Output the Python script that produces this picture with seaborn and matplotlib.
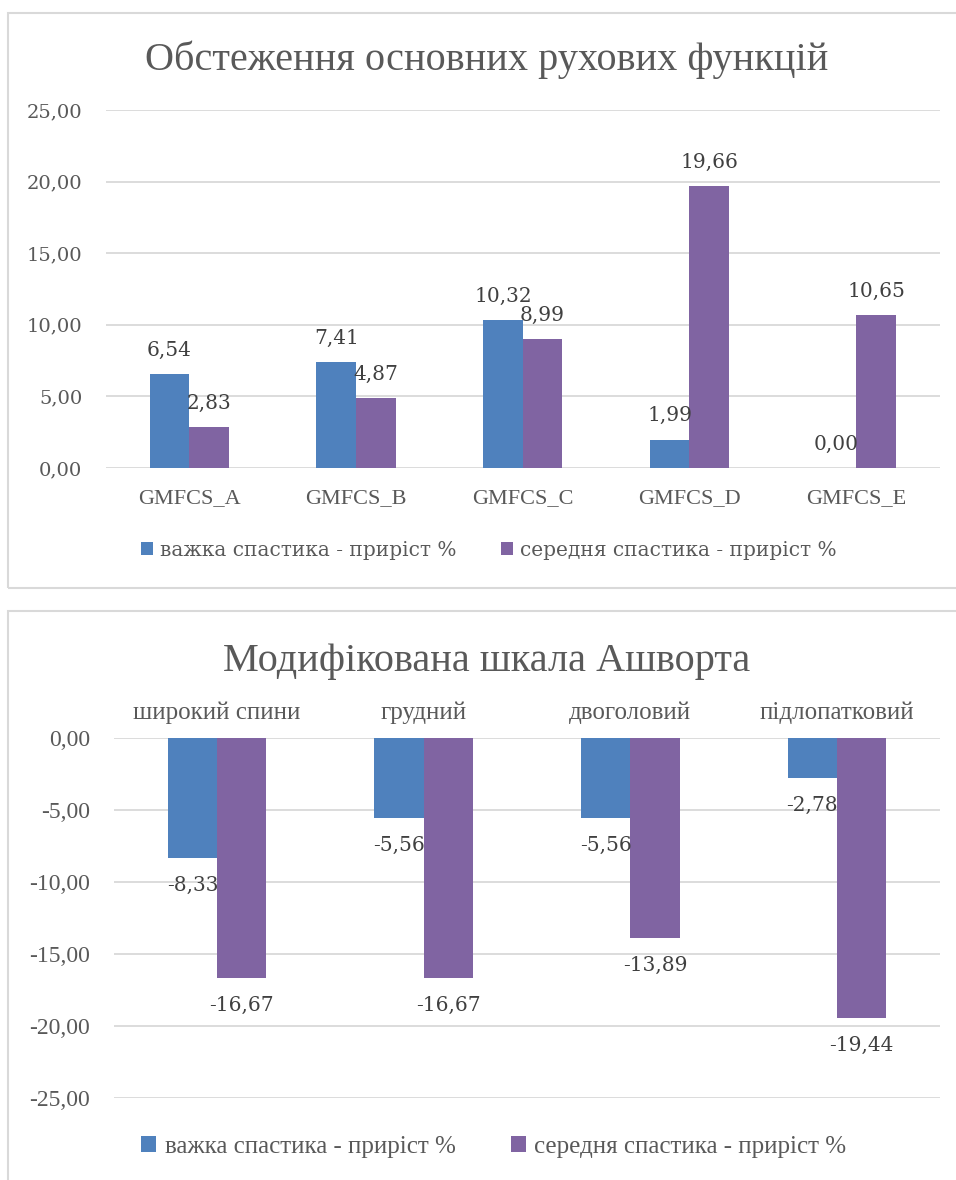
import matplotlib
matplotlib.use("Agg")
import matplotlib.pyplot as plt
from matplotlib.patches import Rectangle, Patch
import pandas as pd
import seaborn as sns

# ---- data -------------------------------------------------------------
gmfcs_levels = ["GMFCS_A", "GMFCS_B", "GMFCS_C", "GMFCS_D", "GMFCS_E"]
gmfcs_severe = [6.54, 7.41, 10.32, 1.99, 0.00]
gmfcs_moderate = [2.83, 4.87, 8.99, 19.66, 10.65]

muscles = ["широкий спини", "грудний", "двоголовий", "підлопатковий"]
ashworth_severe = [-8.33, -5.56, -5.56, -2.78]
ashworth_moderate = [-16.67, -16.67, -13.89, -19.44]

series_names = ["важка спастика - приріст %", "середня спастика - приріст %"]
top_title = "Обстеження основних рухових функцій"
bottom_title = "Модифікована шкала Ашворта"
top_ticks = [0, 5, 10, 15, 20, 25]
bottom_ticks = [-25, -20, -15, -10, -5, 0]

# ---- style ------------------------------------------------------------
sns.set_style("white")
plt.rcParams["font.family"] = ["DejaVu Serif", "DejaVu Sans"]

BLUE = "#4F81BD"
PURPLE = "#8064A2"
GRID = "#D9D9D9"
TEXT = "#595959"
LABEL = "#404040"
NARROW = ["Liberation Serif", "DejaVu Serif"]
palette = [BLUE, PURPLE]

W, H = 956, 1180
fig = plt.figure(figsize=(W / 100, H / 100), dpi=100)
fig.patch.set_facecolor("white")


def fmt(v):
    return f"{v:.2f}".replace(".", ",")


def long_frame(cats, a, b):
    return pd.DataFrame({
        "cat": cats * 2,
        "value": a + b,
        "series": [series_names[0]] * len(cats) + [series_names[1]] * len(cats),
    })


def draw_panel(ax, cats, a, b, width, ticks, ylim, tick_font, label_offset):
    df = long_frame(cats, a, b)
    sns.barplot(data=df, x="cat", y="value", hue="series", order=cats,
                hue_order=series_names, palette=palette, saturation=1,
                width=width, linewidth=0, errorbar=None, legend=False, ax=ax)
    ax.set_xlim(-0.5, len(cats) - 0.5)
    ax.set_ylim(*ylim)
    ax.set_yticks(ticks)
    ax.set_yticklabels([fmt(t) for t in ticks], color=TEXT,
                       fontsize=tick_font[0], family=tick_font[1])
    ax.set_xlabel("")
    ax.set_ylabel("")
    ax.yaxis.grid(True, color=GRID, linewidth=1.3)
    ax.set_axisbelow(True)
    for s in ax.spines.values():
        s.set_visible(False)
    ax.tick_params(axis="both", length=0)
    ax.tick_params(axis="y", pad=17)
    # value labels at the outer end of each bar
    for container, vals in zip(ax.containers, [a, b]):
        for bar, v in zip(container.patches, vals):
            x = bar.get_x() + bar.get_width() / 2
            off = label_offset if v >= 0 else -label_offset - 3
            ax.annotate(fmt(v), (x, v), xytext=(0, off),
                        textcoords="offset points", ha="center", va="center",
                        fontsize=14.5, color=LABEL)
    handles = [Patch(facecolor=c, edgecolor="none") for c in palette]
    return handles


def legend(ax, handles, y, font):
    ax.legend(handles, series_names, loc="center left",
              bbox_to_anchor=(141 / W, 1 - y / H),
              bbox_transform=fig.transFigure, ncol=2, frameon=False,
              borderpad=0, borderaxespad=0,
              handlelength=0.6, handleheight=0.6, handletextpad=0.35,
              columnspacing=2.2, labelcolor=TEXT,
              prop={"size": font[0], "family": font[1]})


# ---- chart frames -------------------------------------------------------
fig.patches.append(Rectangle((8 / W, 1 - 588 / H), 960 / W, 575 / H,
                             transform=fig.transFigure, fill=False,
                             edgecolor=GRID, linewidth=1.5))
fig.patches.append(Rectangle((8 / W, 1 - 1190 / H), 960 / W, 579 / H,
                             transform=fig.transFigure, fill=False,
                             edgecolor=GRID, linewidth=1.5))

# ---- top chart: GMFCS -------------------------------------------------
ax1 = fig.add_axes([106 / W, 1 - 468 / H, 833.5 / W, 358 / H])
h1 = draw_panel(ax1, gmfcs_levels, gmfcs_severe, gmfcs_moderate, 0.475,
                top_ticks, (0, 25), (14, "DejaVu Serif"), 17)
ax1.set_xticks(range(len(gmfcs_levels)))
ax1.set_xticklabels(gmfcs_levels, fontsize=16, family=NARROW, color=TEXT)
ax1.tick_params(axis="x", pad=15)
legend(ax1, h1, 550, (14.5, "DejaVu Serif"))
fig.text(487 / W, 1 - 60 / H, top_title, ha="center", va="center",
         fontsize=29, color=TEXT, family=NARROW)

# ---- bottom chart: Ashworth scale ----------------------------------------
ax2 = fig.add_axes([113.7 / W, 1 - 1098 / H, 826.7 / W, 360 / H])
h2 = draw_panel(ax2, muscles, ashworth_severe, ashworth_moderate, 0.477,
                bottom_ticks, (-25, 0), (17, NARROW), 17)
ax2.xaxis.tick_top()
ax2.set_xticks(range(len(muscles)))
ax2.set_xticklabels(muscles, fontsize=18, family=NARROW, color=TEXT)
ax2.tick_params(axis="x", pad=10, length=0)
legend(ax2, h2, 1147, (18, NARROW))
fig.text(487 / W, 1 - 661 / H, bottom_title, ha="center", va="center",
         fontsize=29, color=TEXT, family=NARROW)

fig.savefig("out.png", dpi=100, facecolor="white")
